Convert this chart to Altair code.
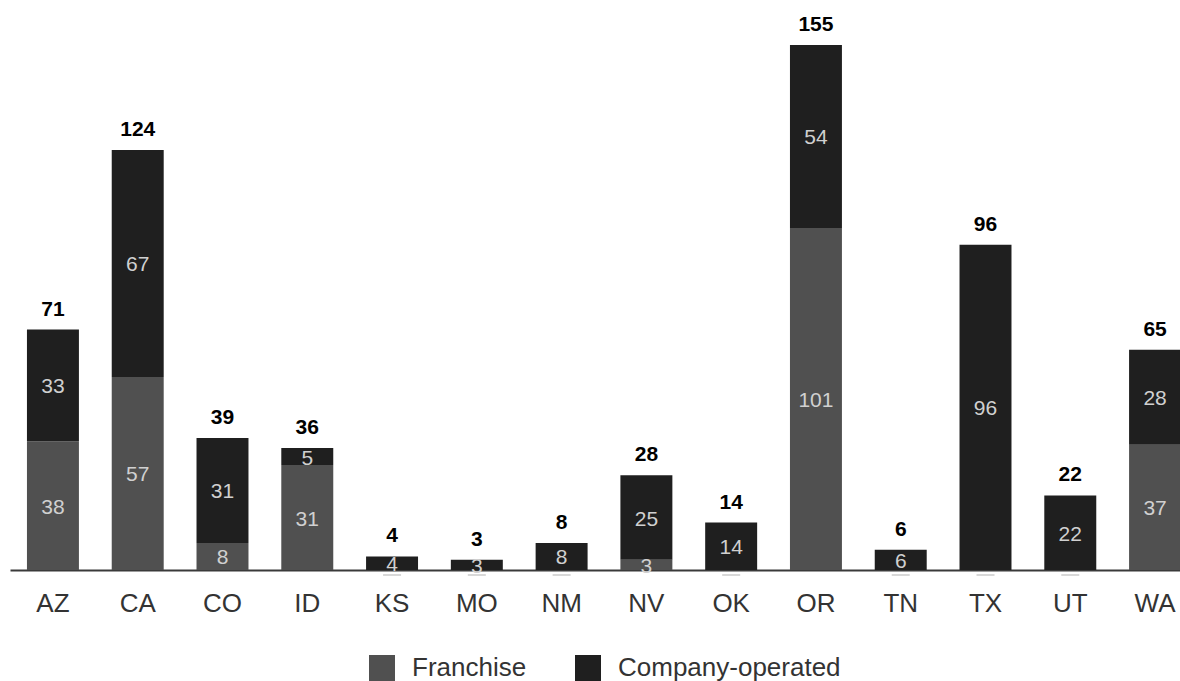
import altair as alt
import pandas as pd

states = ["AZ", "CA", "CO", "ID", "KS", "MO", "NM", "NV", "OK", "OR", "TN", "TX", "UT", "WA"]
franchise = [38, 57, 8, 31, 0, 0, 0, 3, 0, 101, 0, 0, 0, 37]
company = [33, 67, 31, 5, 4, 3, 8, 25, 14, 54, 6, 96, 22, 28]
series = ["Franchise", "Company-operated"]
colors = ["#505050", "#1f1f1f"]

rows = []
for s, f, c in zip(states, franchise, company):
    rows.append({"state": s, "type": "Franchise", "value": f, "start": 0, "end": f})
    rows.append({"state": s, "type": "Company-operated", "value": c, "start": f, "end": f + c})
seg = pd.DataFrame(rows)
seg["mid"] = (seg["start"] + seg["end"]) / 2
seg_nz = seg[seg["value"] > 0]
tot = pd.DataFrame({"state": states, "total": [f + c for f, c in zip(franchise, company)]})
zero = pd.DataFrame({"state": [s for s, f in zip(states, franchise) if f == 0], "v": 0})

FONT = "Liberation Sans"
xscale = alt.Scale(domain=states, range=[0, 1188], paddingInner=0.387, paddingOuter=0.2)
yscale = alt.Scale(domain=[0, 155], nice=False, zero=True)

x = alt.X("state:N", scale=xscale, sort=states,
          axis=alt.Axis(title=None, ticks=False, grid=False, labelAngle=0,
                        labelFont=FONT, labelFontSize=26, labelColor="#333333",
                        labelPadding=20, domainColor="#3a3a3a", domainWidth=2))

bars = alt.Chart(seg).mark_bar().encode(
    x=x,
    y=alt.Y("start:Q", scale=yscale, axis=None),
    y2="end:Q",
    color=alt.Color("type:N", scale=alt.Scale(domain=series, range=colors),
                    legend=alt.Legend(title=None, orient="none", legendX=359, legendY=610,
                                      direction="horizontal", symbolType="square",
                                      symbolSize=676, symbolStrokeWidth=0, symbolOpacity=1,
                                      labelFont=FONT, labelFontSize=26, labelColor="#333333",
                                      labelOffset=17, columnPadding=48, labelLimit=400,
                                      padding=0)),
)

inner = alt.Chart(seg_nz).mark_text(font=FONT, fontSize=21, color="#d0d0d0",
                                    baseline="middle", dy=2).encode(
    x=alt.X("state:N", scale=xscale, sort=states),
    y=alt.Y("mid:Q", scale=yscale),
    text="value:Q",
)

totals = alt.Chart(tot).mark_text(font=FONT, fontSize=21, fontWeight="bold", color="#000000",
                                  baseline="alphabetic", dy=-14).encode(
    x=alt.X("state:N", scale=xscale, sort=states),
    y=alt.Y("total:Q", scale=yscale),
    text="total:Q",
)

ticks = alt.Chart(zero).mark_tick(color="#c8c8c8", thickness=2, size=18, yOffset=5,
                                  orient="horizontal").encode(
    x=alt.X("state:N", scale=xscale, sort=states),
    y=alt.Y("v:Q", scale=yscale),
)

chart = alt.layer(bars, ticks, inner, totals).properties(
    width=1170, height=525,
    autosize=alt.AutoSizeParams(type="none"),
    padding={"left": 10, "top": 45, "right": 0, "bottom": 111},
).configure_view(stroke=None)

chart.save("out.html", embed_options={"renderer": "svg", "actions": False})
